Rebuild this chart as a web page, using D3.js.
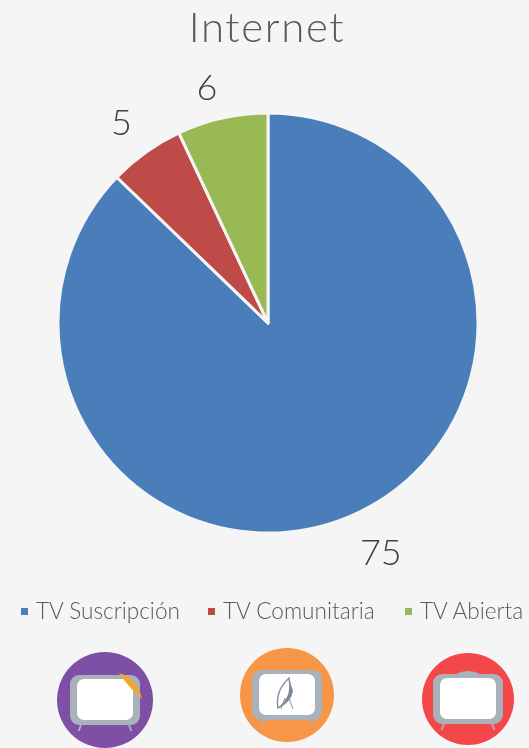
<!DOCTYPE html>
<html>
<head>
<meta charset="utf-8">
<script src="https://cdn.jsdelivr.net/npm/d3@7"></script>
<style>
  html, body { margin: 0; padding: 0; background: #f5f5f5; overflow: hidden; }
  svg { display: block; filter: blur(0.6px); }
  text { font-family: Lato, "Open Sans", sans-serif; }
</style>
</head>
<body>
<div id="my_dataviz"></div>
<script>
// Data
var title = "Internet";
var categories = ["TV Suscripción", "TV Comunitaria", "TV Abierta"];
var values = [75, 5, 6];
var colors = ["#4a7ebb", "#be4b48", "#98b954"];
var iconColors = ["#7d4fa5", "#f79646", "#f4474a"];

var width = 529, height = 748;
var cx = 268, cy = 323, radius = 210;

var svg = d3.select("#my_dataviz")
  .append("svg")
    .attr("width", width)
    .attr("height", height);

svg.append("rect")
  .attr("x", -5)
  .attr("y", -5)
  .attr("width", width + 10)
  .attr("height", height + 10)
  .attr("fill", "#f5f5f5");

svg.append("text")
  .attr("x", 267)
  .attr("y", 42)
  .attr("text-anchor", "middle")
  .style("font-size", "42px")
  .style("font-weight", 300)
  .style("letter-spacing", "1.6px")
  .attr("fill", "#595959")
  .text(title);

// pie, clockwise from 12 o'clock
var pie = d3.pie().sort(null).value(function(d) { return d; });
var arc = d3.arc().innerRadius(0).outerRadius(radius);
var arcs = pie(values);

var g = svg.append("g")
  .attr("transform", "translate(" + cx + "," + cy + ")");

g.selectAll("path")
  .data(arcs)
  .enter()
  .append("path")
    .attr("d", arc)
    .attr("fill", function(d, i) { return colors[i]; })
    .attr("stroke", "#f5f5f5")
    .attr("stroke-width", 3)
    .attr("stroke-linejoin", "round");

// value labels sit just outside the rim
var labelArc = d3.arc().innerRadius(radius + 30).outerRadius(radius + 30);
var labelNudge = [[19, 8], [-7, -6], [-9, -2]];

g.selectAll(".label")
  .data(arcs)
  .enter()
  .append("text")
    .attr("class", "label")
    .attr("transform", function(d, i) {
      var c = labelArc.centroid(d);
      return "translate(" + (c[0] + labelNudge[i][0]) + "," + (c[1] + labelNudge[i][1]) + ")";
    })
    .attr("text-anchor", "middle")
    .attr("dy", "0.36em")
    .style("font-size", "36px")
    .style("font-weight", 300)
    .attr("fill", "#404040")
    .text(function(d) { return d.value; });

// legend
var legendX = [21, 208, 405];

var legend = svg.selectAll(".legend")
  .data(categories)
  .enter()
  .append("g")
    .attr("class", "legend")
    .attr("transform", function(d, i) { return "translate(" + legendX[i] + ",611)"; });

legend.append("rect")
  .attr("y", -3)
  .attr("width", 7)
  .attr("height", 7)
  .attr("fill", function(d, i) { return colors[i]; });

legend.append("text")
  .attr("x", 15)
  .attr("dy", "0.36em")
  .style("font-size", "22.6px")
  .style("font-weight", 300)
  .attr("fill", "#595959")
  .text(function(d) { return d; });

// tv icons along the bottom
var iconX = [105, 287, 468];
var iconY = [700, 695, 699];
var iconR = [48, 47, 46];

var icons = svg.selectAll(".icon")
  .data(iconColors)
  .enter()
  .append("g")
    .attr("class", "icon")
    .attr("transform", function(d, i) { return "translate(" + iconX[i] + "," + iconY[i] + ")"; });

icons.append("circle")
  .attr("r", function(d, i) { return iconR[i]; })
  .attr("fill", function(d) { return d; });

icons.append("rect")
  .attr("x", -35).attr("y", -25)
  .attr("width", 70).attr("height", 50)
  .attr("rx", 9)
  .attr("fill", "#a9b1bb");

icons.append("rect")
  .attr("x", -28).attr("y", -21)
  .attr("width", 56).attr("height", 41)
  .attr("rx", 7)
  .attr("fill", "#ffffff");

// tv feet
[-24, 24].forEach(function(x) {
  icons.append("line")
    .attr("x1", x).attr("x2", x * 1.1)
    .attr("y1", 25).attr("y2", 31)
    .attr("stroke", "#a9b1bb")
    .attr("stroke-width", 2);
});

// yellow cable on the first tv
icons.filter(function(d, i) { return i === 0; })
  .append("path")
    .attr("d", "M14,-27 Q32,-22 37,-1 Q24,-12 14,-27Z")
    .attr("fill", "#f0a830");

// dish on the second tv
var dish = icons.filter(function(d, i) { return i === 1; }).append("g");
dish.append("path")
  .attr("d", "M2,-17 Q-12,-4 -9,13 Q6,6 2,-17Z")
  .attr("fill", "#ffffff")
  .attr("stroke", "#8c96a3")
  .attr("stroke-width", 1.5);
dish.append("path")
  .attr("d", "M2,-17 Q7,-2 -9,13 Q4,8 6,-4Z")
  .attr("fill", "#7d8794");
dish.append("path")
  .attr("d", "M-2,3 L-6,14 M2,3 L6,14")
  .attr("stroke", "#8c96a3")
  .attr("fill", "none");

// antenna bump on the third tv
icons.filter(function(d, i) { return i === 2; })
  .append("path")
    .attr("d", "M-12,-25 Q0,-31 12,-25Z")
    .attr("fill", "#a9b1bb");
</script>
</body>
</html>
